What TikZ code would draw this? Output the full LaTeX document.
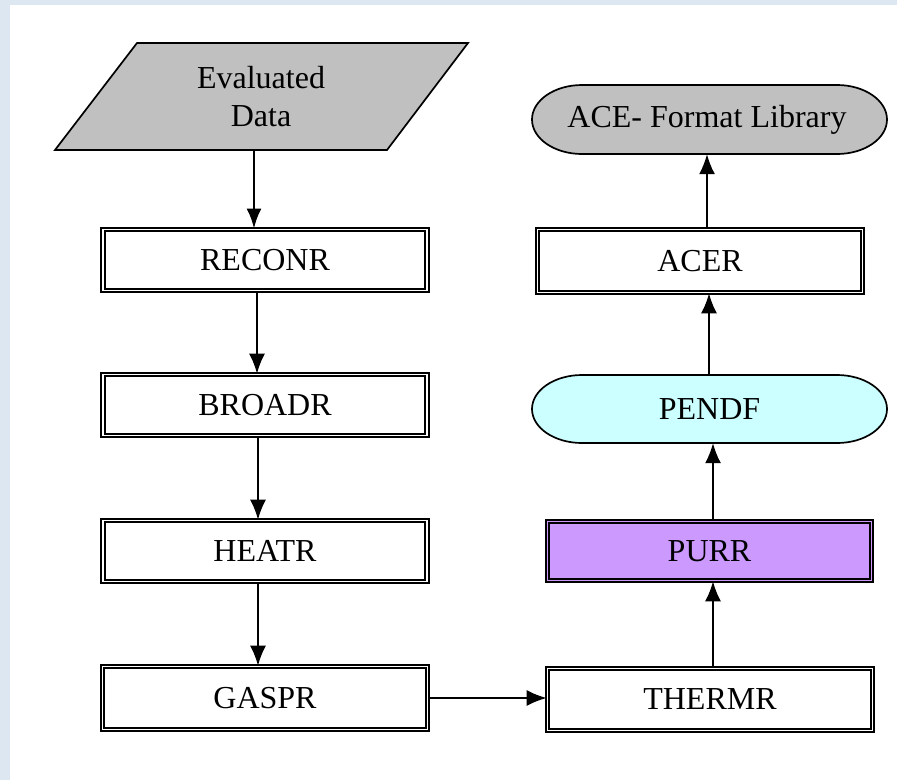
\documentclass[tikz,border=0pt]{standalone}
\usepackage{fontspec}
\setmainfont{Liberation Serif}
\usetikzlibrary{arrows.meta,calc}
\definecolor{bgblue}{HTML}{DCE7F1}
\definecolor{grayfill}{HTML}{C0C0C0}
\definecolor{cyanfill}{HTML}{CCFFFF}
\definecolor{purplefill}{HTML}{CC99FF}
\tikzset{
  lbl/.style={font=\fontsize{32}{38}\selectfont, align=center, inner sep=0pt},
  dbox/.style={rectangle, draw=black, line width=1.8pt, double=white, double distance=1.8pt,
    fill=white, font=\fontsize{32}{38}\selectfont, inner sep=0pt},
  conn/.style={line width=1.6pt, -{Latex[length=20pt,width=16pt]}},
  connthick/.style={line width=2.6pt, -{Latex[length=20pt,width=15pt]}},
  shapeline/.style={draw=black, line width=1.7pt}
}
\begin{document}
\begin{tikzpicture}[x=1pt,y=-1pt]
\useasboundingbox (0,0) rectangle (897,780);
\fill[bgblue] (0,0) rectangle (897,780);
\fill[white] (10,5) rectangle (897,780);

% Evaluated data parallelogram
\draw[shapeline, fill=grayfill] (137,43) -- (468,43) -- (387,150) -- (55,150) -- cycle;
\node[lbl] (eval) at (261,97) {Evaluated\\Data};
\coordinate (evalb) at (254,150);

% left column
\node[dbox, minimum width=324pt, minimum height=61pt] (reconr) at (265,260) {RECONR};
\node[dbox, minimum width=324pt, minimum height=61pt] (broadr) at (265,405) {BROADR};
\node[dbox, minimum width=324pt, minimum height=61pt] (heatr) at (265,551) {HEATR};
\node[dbox, minimum width=325pt, minimum height=63pt] (gaspr) at (265,698) {GASPR};

% right column
\node[dbox, minimum width=325pt, minimum height=62pt] (thermr) at (710,699.5) {THERMR};
\node[dbox, fill=purplefill, double=purplefill, minimum width=324pt, minimum height=59pt] (purr) at (709.5,551) {PURR};

\draw[shapeline, fill=cyanfill] (582,375) -- (837,375)
  arc[start angle=-90, end angle=90, x radius=50, y radius=34] -- (582,443)
  arc[start angle=90, end angle=270, x radius=50, y radius=34] -- cycle;
\node[lbl, minimum width=355pt, minimum height=68pt] (pendf) at (709.5,409) {PENDF};

\node[dbox, minimum width=325pt, minimum height=63pt] (acer) at (700,261) {ACER};

\draw[shapeline, fill=grayfill] (582,85) -- (837,85)
  arc[start angle=-90, end angle=90, x radius=50, y radius=34.5] -- (582,154)
  arc[start angle=90, end angle=270, x radius=50, y radius=34.5] -- cycle;
\node[lbl, minimum width=355pt, minimum height=69pt] (ace) at (707,119.5) {ACE- Format Library};

% connectors
\draw[connthick] (evalb) -- (evalb |- reconr.north);
\draw[conn] ([xshift=-8pt]reconr.south) -- ([xshift=-8pt]broadr.north);
\draw[conn] ([xshift=-7pt]broadr.south) -- ([xshift=-7pt]heatr.north);
\draw[conn] ([xshift=-7pt]heatr.south) -- ([xshift=-7pt]gaspr.north);
\draw[conn] (gaspr.east) -- (thermr.west |- gaspr.east);
\draw[conn] ([xshift=3pt]thermr.north) -- ([xshift=3.5pt]purr.south);
\draw[conn] ([xshift=3.5pt]purr.north) -- ([xshift=3.5pt]pendf.south);
\draw[conn] ([xshift=-0.5pt]pendf.north) -- ([xshift=9pt]acer.south);
\draw[conn] ([xshift=7pt]acer.north) -- (ace.south);
\end{tikzpicture}
\end{document}
